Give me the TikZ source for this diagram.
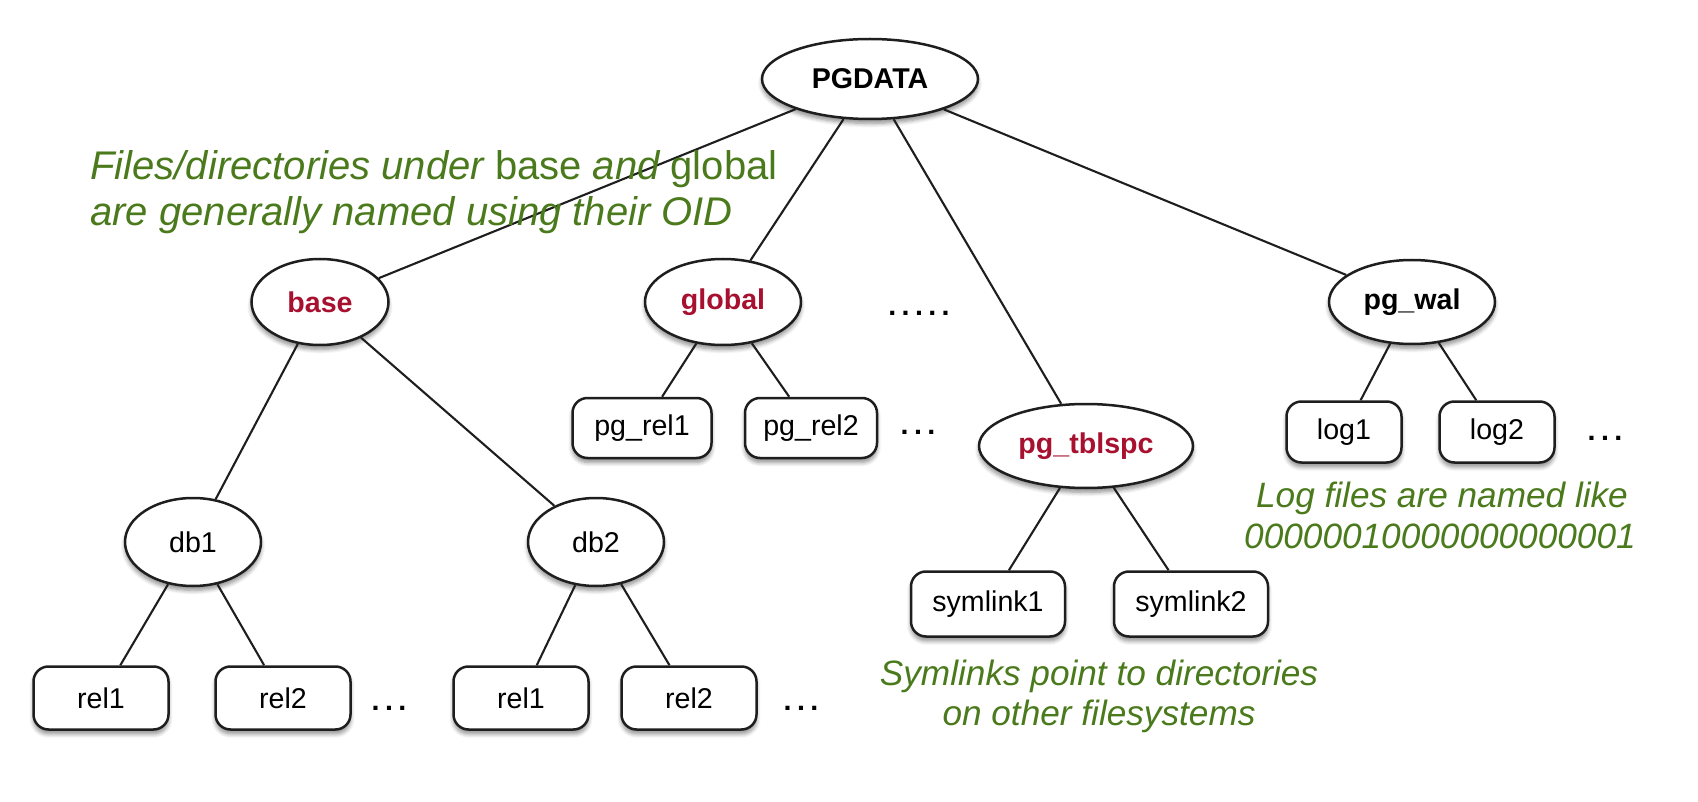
\documentclass[tikz,border=0pt]{standalone}
\usepackage{fontspec}
\setmainfont{Liberation Sans}
\usetikzlibrary{shapes.geometric,shadows.blur}
\definecolor{dirred}{RGB}{168,16,48}
\definecolor{notegreen}{RGB}{74,122,28}
\definecolor{edgegray}{RGB}{30,30,30}
\tikzset{
  nodefont/.style={font=\fontsize{14.3}{16}\selectfont},
  softshadow/.style={blur shadow={shadow xshift=0pt, shadow yshift=-2.2pt, shadow blur steps=6, shadow opacity=45}},
  dirnode/.style={ellipse, draw=edgegray, line width=1.25pt, fill=white, inner sep=0pt, nodefont, softshadow},
  filenode/.style={rectangle, rounded corners=7.5pt, draw=edgegray, line width=1.25pt, fill=white, inner sep=0pt, nodefont, softshadow},
  boldred/.style={text=dirred, font=\fontsize{14.3}{16}\selectfont\bfseries},
  boldblack/.style={font=\fontsize{14.3}{16}\selectfont\bfseries},
  link/.style={draw=edgegray, line width=1.05pt},
  note/.style={text=notegreen, inner sep=0pt, font=\fontsize{17.6}{20}\selectfont\itshape},
  bignote/.style={text=notegreen, inner sep=0pt, font=\fontsize{20}{24}\selectfont\itshape},
  dotsnode/.style={inner sep=0pt, font=\fontsize{14.3}{16}\selectfont\bfseries}
}
\newcommand{\dotrow}[1]{\foreach \i in {1,...,#1}{\ifnum\i>1\kern2.7pt\fi.}}
\begin{document}
\begin{tikzpicture}[x=0.5pt,y=-0.5pt]
\path[use as bounding box] (0,0) rectangle (1698,802);

% directories
\node[dirnode, boldblack, minimum width=108pt, minimum height=40pt] (pgdata) at (870,79) {PGDATA};
\node[dirnode, boldred, minimum width=68.5pt, minimum height=43pt] (base) at (320,302) {base};
\node[dirnode, boldred, minimum width=78pt, minimum height=43pt] (global) at (723,302) {global};
\node[dirnode, boldblack, minimum width=83pt, minimum height=42pt] (pgwal) at (1412,302) {pg\_wal};
\node[dirnode, boldred, minimum width=107pt, minimum height=42pt] (tblspc) at (1086,446) {pg\_tblspc};
\node[dirnode, minimum width=68pt, minimum height=44pt] (db1) at (193,542) {db1};
\node[dirnode, minimum width=68pt, minimum height=44pt] (db2) at (596,542) {db2};

% files
\node[filenode, minimum width=69.5pt, minimum height=30pt] (pgrel1) at (642,428) {pg\_rel1};
\node[filenode, minimum width=66pt, minimum height=30pt] (pgrel2) at (811,428) {pg\_rel2};
\node[filenode, minimum width=57.5pt, minimum height=30.5pt] (log1) at (1344,432) {log1};
\node[filenode, minimum width=57.5pt, minimum height=30.5pt] (log2) at (1497,432) {log2};
\node[filenode, minimum width=77pt, minimum height=32.5pt] (sym1) at (988,604) {symlink1};
\node[filenode, minimum width=77pt, minimum height=32.5pt] (sym2) at (1191,604) {symlink2};
\node[filenode, minimum width=67.5pt, minimum height=31.5pt] (rel1a) at (101,698) {rel1};
\node[filenode, minimum width=67.5pt, minimum height=31.5pt] (rel2a) at (283,698) {rel2};
\node[filenode, minimum width=67.5pt, minimum height=31.5pt] (rel1b) at (521,698) {rel1};
\node[filenode, minimum width=67.5pt, minimum height=31.5pt] (rel2b) at (689,698) {rel2};

% connectors
\draw[link] (pgdata) -- (base);
\draw[link] (pgdata) -- (global);
\draw[link] (pgdata) -- (tblspc);
\draw[link] (pgdata) -- (pgwal);
\draw[link] (base) -- (db1);
\draw[link] (base) -- (db2);
\draw[link] (db1) -- (rel1a);
\draw[link] (db1) -- (rel2a);
\draw[link] (db2) -- (rel1b);
\draw[link] (db2) -- (rel2b);
\draw[link] (global) -- (pgrel1);
\draw[link] (global) -- (pgrel2);
\draw[link] (tblspc) -- (sym1);
\draw[link] (tblspc) -- (sym2);
\draw[link] (pgwal) -- (log1);
\draw[link] (pgwal) -- (log2);

% ellipses
\node[dotsnode] (dots0) at (919,313) {\dotrow{5}};
\node[dotsnode] (dots1) at (918,432) {\dotrow{3}};
\node[dotsnode] (dots2) at (389,708) {\dotrow{3}};
\node[dotsnode] (dots3) at (801,708) {\dotrow{3}};
\node[dotsnode] (dots4) at (1605,438) {\dotrow{3}};

% notes
\node[bignote, anchor=base west] (noteA1) at (90,180) {Files/directories under \upshape base \itshape and \upshape global};
\node[bignote, anchor=base west] (noteA2) at (90,226) {are generally named using their OID};
\node[note, anchor=base] (noteB1) at (1442,507) {Log files are named like};
\node[note, anchor=base] (noteB2) at (1440,548) {00000010000000000001};
\node[note, anchor=base] (noteC1) at (1099,685) {Symlinks point to directories};
\node[note, anchor=base] (noteC2) at (1099,725) {on other filesystems};
\end{tikzpicture}
\end{document}
